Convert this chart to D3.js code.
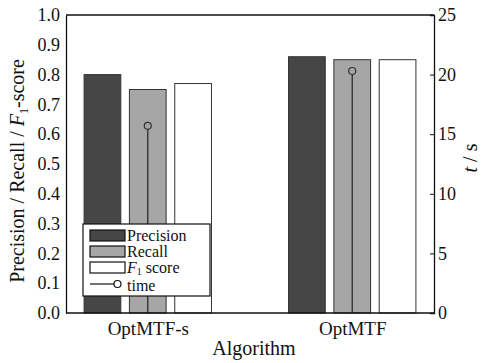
<!DOCTYPE html>
<html><head><meta charset="utf-8">
<script src="https://cdn.jsdelivr.net/npm/d3@7"></script>
<style>body{margin:0;background:#fff}svg{display:block}svg text{font-family:"Liberation Serif","Times New Roman",Times,"DejaVu Serif",serif !important;fill:#111}</style>
</head><body>
<script>
const categories = ["OptMTF-s", "OptMTF"];
const seriesNames = ["Precision", "Recall", "F1 score"];
const precision = [0.80, 0.86];
const recall = [0.75, 0.85];
const f1score = [0.77, 0.85];
const timeSec = [15.7, 20.3];
const leftTicks = [0, 0.1, 0.2, 0.3, 0.4, 0.5, 0.6, 0.7, 0.8, 0.9, 1.0];
const rightTicks = [0, 5, 10, 15, 20, 25];

const FONT = "'Liberation Serif', 'Times New Roman', Times, 'DejaVu Serif', serif";
const FS = 20;
const W = 481, H = 363;
const m = {l: 66, r: 47, t: 15, b: 50};
const svg = d3.select("body").append("svg").attr("width", W).attr("height", H).attr("font-family", FONT);
const x0 = m.l, x1 = W - m.r, y0 = H - m.b, y1 = m.t;

const x = d3.scalePoint().domain(categories).range([x0, x1]).padding(0.4);
const xs = d3.scaleBand().domain(seriesNames).range([-68, 68]).paddingInner(0.19).paddingOuter(0.095);
const yL = d3.scaleLinear().domain([0, 1]).range([y0, y1]);
const yR = d3.scaleLinear().domain([0, 25]).range([y0, y1]);
const fills = ["#464646", "#a6a6a6", "#ffffff"];
const vals = [precision, recall, f1score];

// bars
seriesNames.forEach((s, si) => {
  svg.append("g").selectAll("rect").data(categories).join("rect")
    .attr("x", (c) => x(c) + xs(s))
    .attr("width", xs.bandwidth())
    .attr("y", (c, i) => yL(vals[si][i]))
    .attr("height", (c, i) => y0 - yL(vals[si][i]))
    .attr("fill", fills[si]).attr("stroke", "#333").attr("stroke-width", 1);
});

// time stems
const tg = svg.append("g");
tg.selectAll("line").data(categories).join("line")
  .attr("x1", (c) => x(c)).attr("x2", (c) => x(c))
  .attr("y1", yR(0)).attr("y2", (c, i) => yR(timeSec[i]) + 3.5)
  .attr("stroke", "#222").attr("stroke-width", 1.2);
tg.selectAll("circle").data(categories).join("circle")
  .attr("cx", (c) => x(c)).attr("cy", (c, i) => yR(timeSec[i]))
  .attr("r", 3.5).attr("fill", "none").attr("stroke", "#333").attr("stroke-width", 1.2);

// frame
svg.append("path").attr("d", `M${x0},${y0}H${x1}M${x0},${y1}H${x1}`).attr("stroke", "#111").attr("stroke-width", 1.3);

function styleAxis(g, fs) {
  g.attr("font-family", FONT).attr("font-size", fs);
  g.select(".domain").attr("stroke", "#111").attr("stroke-width", 1.3);
  g.selectAll(".tick line").attr("stroke", "#111");
  g.selectAll("text").attr("fill", "#111");
}
// left axis
const gl = svg.append("g").attr("transform", `translate(${x0},0)`)
  .call(d3.axisLeft(yL).tickValues(leftTicks).tickFormat(d3.format(".1f")).tickSize(0).tickPadding(6));
styleAxis(gl, 18);

// right axis
const gr = svg.append("g").attr("transform", `translate(${x1},0)`)
  .call(d3.axisRight(yR).tickValues(rightTicks).tickSize(-4).tickPadding(4));
styleAxis(gr, 18);
gr.selectAll("text").attr("x", 4);

// bottom axis labels
const gb = svg.append("g").attr("transform", `translate(0,${y0})`)
  .call(d3.axisBottom(x).tickSize(0).tickPadding(9));
styleAxis(gb, 19);
gb.select(".domain").remove();

// axis titles
svg.append("text").attr("x", 254).attr("y", 355).attr("text-anchor", "middle").attr("font-size", FS).text("Algorithm");
const ylab = svg.append("text").attr("transform", "translate(24,171) rotate(-90)").attr("text-anchor", "middle").attr("font-size", FS);
ylab.append("tspan").text("Precision / Recall / ");
ylab.append("tspan").attr("font-style", "italic").text("F");
ylab.append("tspan").attr("font-size", 12).attr("dy", 4).text("1");
ylab.append("tspan").attr("dy", -4).text("-score");
const rlab = svg.append("text").attr("transform", "translate(477,158) rotate(-90)").attr("text-anchor", "middle").attr("font-size", FS);
rlab.append("tspan").attr("font-style", "italic").text("t");
rlab.append("tspan").text(" / s");

// legend
const lg = svg.append("g").attr("transform", "translate(83,224)");
lg.append("rect").attr("width", 127).attr("height", 72).attr("fill", "#fff").attr("stroke", "#111").attr("stroke-width", 1.2);
const legendLabels = ["Precision", "Recall", null];
const textY = [17, 33, 49];
seriesNames.forEach((s, i) => {
  const yy = 6 + i * 16;
  lg.append("rect").attr("x", 7).attr("y", yy).attr("width", 35).attr("height", 11)
    .attr("fill", fills[i]).attr("stroke", "#111").attr("stroke-width", 1.2);
  const t = lg.append("text").attr("x", 44).attr("y", textY[i]).attr("font-size", 16);
  if (legendLabels[i]) t.text(legendLabels[i]);
  else {
    t.append("tspan").attr("font-style", "italic").text("F");
    t.append("tspan").attr("font-size", 10).attr("dy", 2).text("1");
    t.append("tspan").attr("dy", -2).text(" score");
  }
});
lg.append("line").attr("x1", 7).attr("x2", 31).attr("y1", 60).attr("y2", 60).attr("stroke", "#111").attr("stroke-width", 1.2);
lg.append("circle").attr("cx", 34.5).attr("cy", 60).attr("r", 3.5).attr("fill", "none").attr("stroke", "#111").attr("stroke-width", 1.2);
lg.append("text").attr("x", 44).attr("y", 67).attr("font-size", 16).text("time");
</script>
</body></html>
